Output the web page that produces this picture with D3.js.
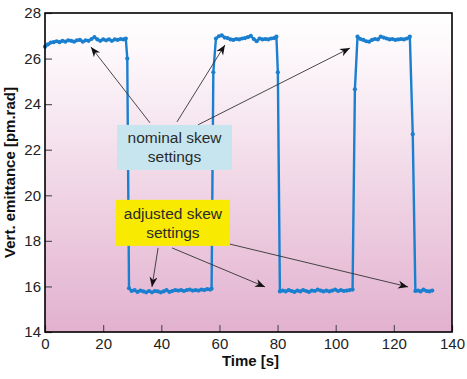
<!DOCTYPE html>
<html>
<head>
<meta charset="utf-8">
<script src="https://cdn.jsdelivr.net/npm/d3@7"></script>
<style>
  body { margin: 0; background: #fff; }
  svg { display: block; font-family: "Liberation Sans", Arial, Helvetica, sans-serif; }
</style>
</head>
<body>
<svg id="chart" width="467" height="379"></svg>
<script>
// measured samples (s) and vertical emittance (pm.rad)
var time = [
  0, 1, 2, 3, 4, 5, 6, 7, 8, 9, 10, 11, 12, 13, 14, 15, 16, 17, 18, 19, 20, 21, 22, 23, 24, 25, 26, 27, 27.8,
  28.3, 28.9,
  29.8, 30.8, 31.8, 32.8, 33.8, 34.8, 35.8, 36.8, 37.8, 38.8, 39.8, 40.8, 41.8, 42.8, 43.8, 44.8, 45.8, 46.8,
  47.8, 48.8, 49.8, 50.8, 51.8, 52.8, 53.8, 54.8, 55.8, 56.8, 57.3,
  57.9,
  58.8, 59.8, 60.8, 61.8, 62.8, 63.8, 64.8, 65.8, 66.8, 67.8, 68.8, 69.8, 70.8, 71.8, 72.8, 73.8, 74.8,
  75.8, 76.8, 77.8, 78.8, 79.6,
  80.1,
  80.8, 81.8, 82.8, 83.8, 84.8, 85.8, 86.8, 87.8, 88.8, 89.8, 90.8, 91.8, 92.8, 93.8, 94.8, 95.8, 96.8,
  97.8, 98.8, 99.8, 100.8, 101.8, 102.8, 103.8, 104.8, 105.8,
  106.6,
  107.5, 108.5, 109.5, 110.5, 111.5, 112.5, 113.5, 114.5, 115.5, 116.5, 117.5, 118.5, 119.5, 120.5,
  121.5, 122.5, 123.5, 124.5, 125.5,
  126.5,
  127.4, 128.3, 129.2, 130.2, 131.2, 132.2, 133.2
]
var emittance = [
  26.52, 26.62, 26.70, 26.72, 26.76, 26.72, 26.78, 26.74, 26.80, 26.78, 26.74, 26.80, 26.82, 26.74, 26.80,
  26.78, 26.86, 26.94, 26.84, 26.78, 26.84, 26.80, 26.84, 26.78, 26.84, 26.82, 26.86, 26.84, 26.88,
  26.0, 15.92,
  15.80, 15.84, 15.76, 15.82, 15.78, 15.74, 15.80, 15.74, 15.80, 15.78, 15.74, 15.78, 15.84, 15.76,
  15.80, 15.84, 15.82, 15.84, 15.80, 15.84, 15.86, 15.82, 15.84, 15.82, 15.86, 15.84, 15.88, 15.86, 15.90,
  25.4,
  26.88, 26.98, 27.02, 26.92, 26.90, 26.84, 26.82, 26.86, 26.84, 26.88, 26.90, 26.94, 27.00, 26.86,
  26.76, 26.88, 26.84, 26.86, 26.84, 26.88, 26.90, 26.96,
  25.4,
  15.78, 15.82, 15.78, 15.84, 15.80, 15.76, 15.82, 15.78, 15.84, 15.80, 15.76, 15.82, 15.80, 15.86,
  15.82, 15.78, 15.82, 15.78, 15.82, 15.86, 15.80, 15.84, 15.80, 15.82, 15.84, 15.86,
  24.65,
  26.96, 26.86, 26.82, 26.76, 26.74, 26.82, 26.86, 26.84, 26.96, 26.92, 26.88, 26.84, 26.86, 26.82,
  26.84, 26.86, 26.84, 26.88, 26.96,
  22.68,
  15.80, 15.82, 15.78, 15.86, 15.80, 15.78, 15.82
]
var xTicks = [0, 20, 40, 60, 80, 100, 120, 140]
var yTicks = [14, 16, 18, 20, 22, 24, 26, 28]

// callout boxes [t0, t1, vTop, vBottom] and arrows [tFrom, vFrom, tTo, vTo]
var nominalLines = ["nominal skew", "settings"]
var nominalBox = [24.8, 64.3, 23.09, 21.11]
var nominalArrows = [[36.1, 23.18, 15.8, 26.51], [45.4, 23.22, 61.9, 26.60], [52.6, 23.09, 104.9, 26.46]]
var adjustedLines = ["adjusted skew", "settings"]
var adjustedBox = [24.4, 63.6, 19.80, 17.78]
var adjustedArrows = [[38.9, 17.69, 36.8, 15.98], [43.7, 17.69, 75.7, 15.98], [61.9, 17.91, 124.9, 15.98]]

var svg = d3.select('#chart')
var plotL = 45, plotR = 452, plotT = 13, plotB = 332

var x = d3.scaleLinear().domain([0, 140]).range([plotL, plotR])
var y = d3.scaleLinear().domain([14, 28]).range([plotB, plotT])

var defs = svg.append('defs')
var grad = defs.append('linearGradient')
    .attr('id', 'bg')
    .attr('x1', 0).attr('y1', 0).attr('x2', 0).attr('y2', 1)
grad.append('stop').attr('offset', '0%').attr('stop-color', '#ffffff')
grad.append('stop').attr('offset', '12%').attr('stop-color', '#fdf8fb')
grad.append('stop').attr('offset', '100%').attr('stop-color', '#e2b1cf')

defs.append('marker')
    .attr('id', 'head')
    .attr('viewBox', '-10 -5 11 10')
    .attr('refX', 0).attr('refY', 0)
    .attr('markerWidth', 11).attr('markerHeight', 10)
    .attr('markerUnits', 'userSpaceOnUse')
    .attr('orient', 'auto')
    .append('path')
    .attr('d', 'M0,0 L-10,-4 L-7,0 L-10,4 Z')
    .attr('fill', '#111')

svg.append('rect')
    .attr('x', plotL).attr('y', plotT)
    .attr('width', plotR - plotL).attr('height', plotB - plotT)
    .attr('fill', 'url(#bg)')

// axes with inward ticks
var gx = svg.append('g')
    .attr('class', 'axis')
    .attr('transform', `translate(0,${plotB})`)
    .call(d3.axisBottom(x).tickValues(xTicks).tickSizeInner(-7).tickSizeOuter(0).tickPadding(6))
var gy = svg.append('g')
    .attr('class', 'axis')
    .attr('transform', `translate(${plotL},0)`)
    .call(d3.axisLeft(y).tickValues(yTicks).tickSizeInner(-7).tickSizeOuter(0).tickPadding(4))
svg.selectAll('.axis .domain').remove()
svg.selectAll('.axis line').attr('stroke', '#555').attr('stroke-width', 1.2)
svg.selectAll('.axis text').attr('font-size', '15px').attr('fill', '#222')
    .attr('font-family', '"Liberation Sans", Arial, sans-serif')

// data line
var points = time.map(function (t, i) { return [t, emittance[i]] })
svg.append('path')
    .datum(points)
    .attr('fill', 'none')
    .attr('stroke', '#1a7fcf')
    .attr('stroke-width', 2.4)
    .attr('stroke-linejoin', 'round')
    .attr('d', d3.line().x(d => x(d[0])).y(d => y(d[1])))
svg.selectAll('circle.pt')
    .data(points)
    .enter().append('circle')
    .attr('class', 'pt')
    .attr('cx', d => x(d[0]))
    .attr('cy', d => y(d[1]))
    .attr('r', 2.1)
    .attr('fill', '#1a7fcf')

// frame
svg.append('rect')
    .attr('x', plotL).attr('y', plotT)
    .attr('width', plotR - plotL).attr('height', plotB - plotT)
    .attr('fill', 'none')
    .attr('stroke', '#000')
    .attr('stroke-width', 1.6)

function callout (box, lines, fill, arrows) {
    arrows.forEach(function (a) {
        svg.append('line')
            .attr('x1', x(a[0])).attr('y1', y(a[1]))
            .attr('x2', x(a[2])).attr('y2', y(a[3]))
            .attr('stroke', '#333')
            .attr('stroke-width', 0.9)
            .attr('marker-end', 'url(#head)')
    })
    svg.append('rect')
        .attr('x', x(box[0])).attr('y', y(box[2]))
        .attr('width', x(box[1]) - x(box[0]))
        .attr('height', y(box[3]) - y(box[2]))
        .attr('fill', fill)
    var cx = (x(box[0]) + x(box[1])) / 2
    var cy = (y(box[2]) + y(box[3])) / 2
    lines.forEach(function (s, i) {
        svg.append('text')
            .attr('x', cx)
            .attr('y', cy + (i - 0.5) * 19 + 5.5)
            .attr('text-anchor', 'middle')
            .attr('font-size', '15.5px')
            .attr('fill', '#2a2a2a')
            .text(s)
    })
}
callout(nominalBox, nominalLines, '#c6e5ef', nominalArrows)
callout(adjustedBox, adjustedLines, '#f8ea00', adjustedArrows)

// axis titles
svg.append('text')
    .attr('x', (plotL + plotR) / 2 + 2)
    .attr('y', 366)
    .attr('text-anchor', 'middle')
    .attr('font-size', '15px')
    .attr('font-weight', 'bold')
    .attr('fill', '#111')
    .text('Time [s]')
svg.append('text')
    .attr('transform', `translate(15,${(plotT + plotB) / 2}) rotate(-90)`)
    .attr('text-anchor', 'middle')
    .attr('font-size', '15px')
    .attr('font-weight', 'bold')
    .attr('fill', '#111')
    .text('Vert. emittance [pm.rad]')
</script>
</body>
</html>
